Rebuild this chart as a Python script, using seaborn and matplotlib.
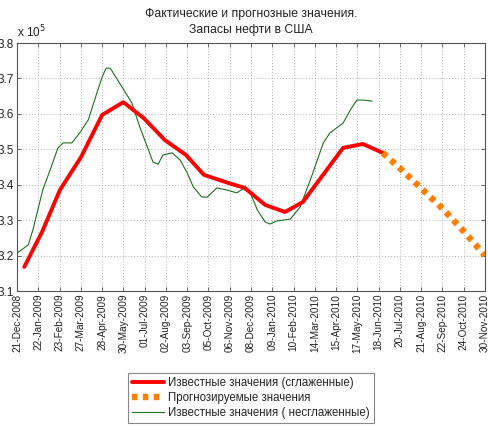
import numpy as np
import pandas as pd
import matplotlib
matplotlib.use("Agg")
import matplotlib.pyplot as plt
import seaborn as sns

# ---------------- data ----------------
smooth_dates = ["2009-01-01", "2009-01-28", "2009-02-24", "2009-03-28", "2009-04-29",
                "2009-05-31", "2009-07-01", "2009-08-02", "2009-09-03", "2009-09-30",
                "2009-11-06", "2009-12-01", "2010-01-01", "2010-01-31", "2010-02-27",
                "2010-04-29", "2010-05-29", "2010-06-28"]
smooth_values = [3.168, 3.267, 3.385, 3.478, 3.597, 3.633, 3.588, 3.526, 3.484, 3.428,
                 3.405, 3.391, 3.343, 3.323, 3.351, 3.504, 3.515, 3.490]

forecast_dates = ["2010-06-28", "2010-07-28", "2010-08-28", "2010-09-28", "2010-10-28", "2010-11-30"]
forecast_values = [3.490, 3.440, 3.385, 3.330, 3.270, 3.200]

raw_dates = ["2008-12-21", "2009-01-07", "2009-01-14", "2009-01-29", "2009-02-12", "2009-02-21",
             "2009-03-01", "2009-03-14", "2009-03-26", "2009-04-08", "2009-04-21", "2009-04-29",
             "2009-05-05", "2009-05-11", "2009-05-15", "2009-05-29", "2009-06-13", "2009-06-25",
             "2009-07-07", "2009-07-15", "2009-07-23", "2009-07-30", "2009-08-13", "2009-08-25",
             "2009-09-05", "2009-09-14", "2009-09-27", "2009-10-05", "2009-10-20", "2009-11-04",
             "2009-11-19", "2009-11-28", "2009-12-09", "2009-12-20", "2010-01-01", "2010-01-08",
             "2010-01-19", "2010-02-08", "2010-02-23", "2010-03-13", "2010-03-30", "2010-04-09",
             "2010-04-29", "2010-05-10", "2010-05-20", "2010-05-29", "2010-06-12"]
raw_values = [3.207, 3.230, 3.272, 3.385, 3.456, 3.504,
              3.518, 3.518, 3.546, 3.583, 3.659, 3.704,
              3.729, 3.729, 3.718, 3.676, 3.631, 3.563,
              3.504, 3.464, 3.458, 3.484, 3.490, 3.470,
              3.433, 3.394, 3.365, 3.365, 3.391, 3.385,
              3.377, 3.388, 3.379, 3.329, 3.295, 3.289,
              3.298, 3.303, 3.337, 3.427, 3.518, 3.546,
              3.574, 3.611, 3.639, 3.639, 3.636]

tick_labels = ["21-Dec-2008", "22-Jan-2009", "23-Feb-2009", "27-Mar-2009", "28-Apr-2009",
               "30-May-2009", "01-Jul-2009", "02-Aug-2009", "03-Sep-2009", "05-Oct-2009",
               "06-Nov-2009", "08-Dec-2009", "09-Jan-2010", "10-Feb-2010", "14-Mar-2010",
               "15-Apr-2010", "17-May-2010", "18-Jun-2010", "20-Jul-2010", "21-Aug-2010",
               "22-Sep-2010", "24-Oct-2010", "30-Nov-2010"]
y_ticks = [3.1, 3.2, 3.3, 3.4, 3.5, 3.6, 3.7, 3.8]

title_text = "Фактические и прогнозные значения.\nЗапасы нефти в США"
legend_labels = ["Известные значения (сглаженные)", "Прогнозируемые значения",
                 "Известные значения ( несглаженные)"]

# ---------------- style ----------------
sns.set_style("white")
plt.rcParams["font.family"] = ["Liberation Sans", "DejaVu Sans"]

fig = plt.figure(figsize=(4.89, 4.36), dpi=100)
W, H = 489, 436
ax = fig.add_axes([17 / W, 1 - 291 / H, 468 / W, 248 / H])

df_s = pd.DataFrame({"date": pd.to_datetime(smooth_dates), "v": smooth_values})
df_f = pd.DataFrame({"date": pd.to_datetime(forecast_dates), "v": forecast_values})
df_r = pd.DataFrame({"date": pd.to_datetime(raw_dates), "v": raw_values})

sns.lineplot(data=df_s, x="date", y="v", ax=ax, color="#ff0000", linewidth=2.8,
             label=legend_labels[0], zorder=3)
sns.lineplot(data=df_f, x="date", y="v", ax=ax, color="#ff7f00", linewidth=4.6,
             linestyle=(0, (0.85, 0.85)), label=legend_labels[1], zorder=3)
sns.lineplot(data=df_r, x="date", y="v", ax=ax, color="#1f701f", linewidth=0.8,
             label=legend_labels[2], zorder=2)

start = pd.Timestamp("2008-12-21")
end = pd.Timestamp("2010-11-30")
ax.set_xlim(start, end)
ax.set_ylim(3.1, 3.8)
tick_pos = pd.to_datetime(np.linspace(start.value, end.value, len(tick_labels)))
ax.set_xticks(tick_pos)
ax.set_xticklabels(tick_labels, rotation=90, fontsize=7.2, color="#222222")
ax.set_yticks(y_ticks)
ax.set_yticklabels([f"{v:.1f}" for v in y_ticks], fontsize=8.5, color="#222222")
ax.set_xlabel("")
ax.set_ylabel("")

ax.grid(True, linestyle=(0, (1, 2)), color="#b0b0b0", linewidth=0.7)
ax.tick_params(axis="both", direction="in", length=3, width=0.6, color="#555555",
               top=True, right=True, bottom=True, left=True, pad=2)
for sp in ax.spines.values():
    sp.set_color("#555555")
    sp.set_linewidth(0.8)

ax.set_title(title_text, fontsize=8.8, color="#222222", pad=7, linespacing=1.45)
ax.text(0.0, 1.012, r"x 10$^5$", transform=ax.transAxes, fontsize=8.5,
        ha="left", va="bottom", color="#222222")

leg = ax.legend(loc="upper left", bbox_to_anchor=(128 / W, 1 - 373 / H),
                bbox_transform=fig.transFigure, fontsize=8.3, frameon=True,
                fancybox=False, framealpha=1, edgecolor="#888888",
                handlelength=2.8, borderaxespad=0, borderpad=0.35, labelspacing=0.25,
                handletextpad=0.35)
leg.get_frame().set_linewidth(0.8)

fig.savefig("out.png", dpi=100)
